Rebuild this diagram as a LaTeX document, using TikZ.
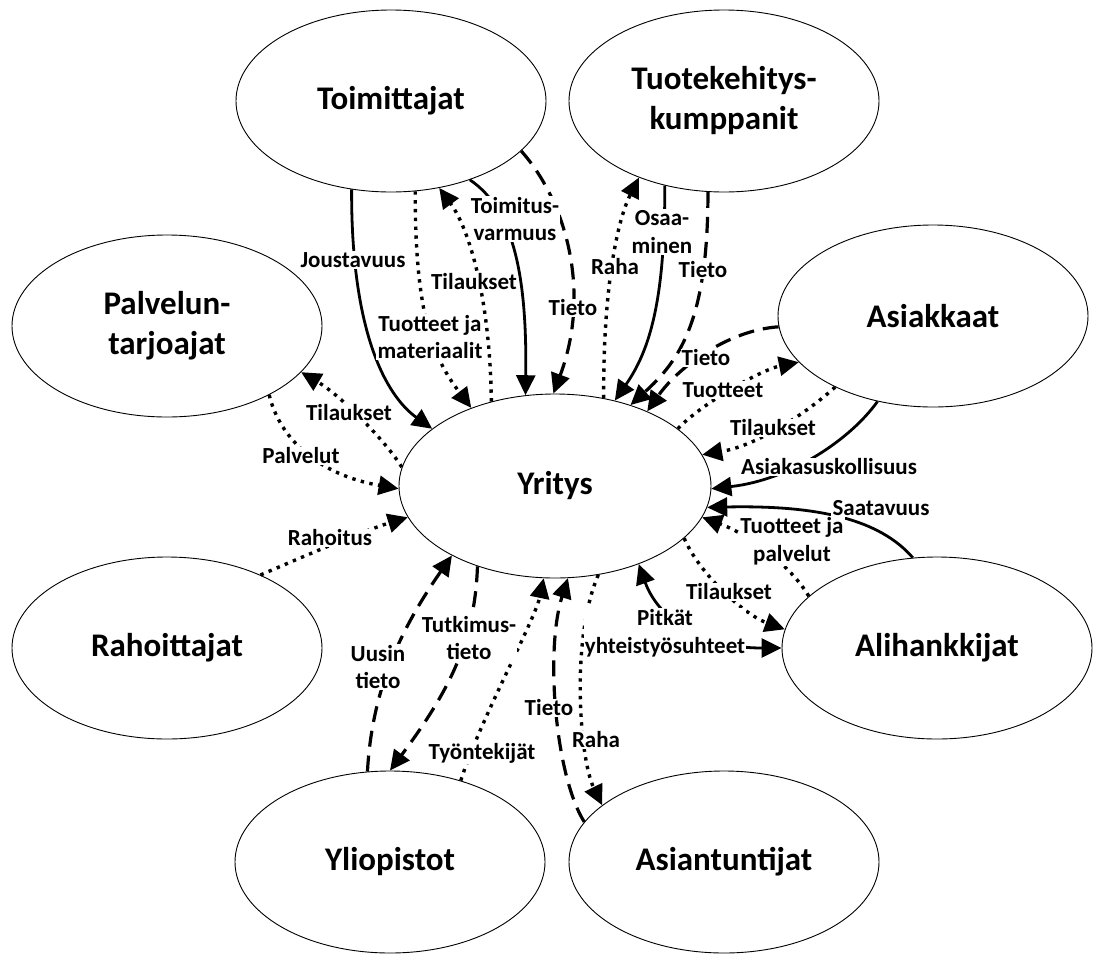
\documentclass[tikz,border=0pt]{standalone}
\usepackage{fontspec}
\setmainfont{Carlito}
\usetikzlibrary{arrows.meta,shapes.geometric}
\begin{document}
\begin{tikzpicture}[x=1pt,y=-1pt,
  party/.style={ellipse,draw,line width=0.9pt,fill=white,minimum width=310pt,
    minimum height=182pt,inner sep=0pt,align=center,
    font=\bfseries\fontsize{33}{40}\selectfont},
  flowlabel/.style={fill=white,inner sep=1.2pt,align=center,
    font=\bfseries\fontsize{23}{27.5}\selectfont},
  headarrow/.style={-{Triangle[length=20pt,width=19pt]}},
  bothheads/.style={{Triangle[length=20pt,width=19pt]}-{Triangle[length=20pt,width=19pt]}},
  solidflow/.style={headarrow,line width=2.8pt},
  solidboth/.style={bothheads,line width=2.8pt},
  dashflow/.style={headarrow,line width=3.2pt,dash pattern=on 16pt off 9pt},
  dotflow/.style={headarrow,line width=3.4pt,dash pattern=on 3.4pt off 5.4pt},
]
\useasboundingbox (0,0) rectangle (1093,954);

% stakeholders
\node[party] (T) at (391,101) {Toimittajat};
\node[party] (K) at (724,101) {Tuotekehitys-\\kumppanit};
\node[party] (P) at (167,326) {Palvelun-\\tarjoajat};
\node[party] (A) at (933,316) {Asiakkaat};
\node[party,minimum width=312pt,minimum height=184pt] (Y) at (555,486) {Yritys};
\node[party] (R) at (167,648) {Rahoittajat};
\node[party] (H) at (937,648) {Alihankkijat};
\node[party] (U) at (390,862) {Yliopistot};
\node[party] (E) at (724,862) {Asiantuntijat};

% suppliers
\draw[solidflow] (T.-114) .. controls (351,330) and (385,395) .. (Y.155);
\draw[dotflow]   (Y.127) .. controls (490,300) and (470,230) .. (T.-61);
\draw[dotflow]   (T.-75) .. controls (415,320) and (435,360) .. (Y.137);
\draw[solidflow] (T.-45) .. controls (515,210) and (527,280) .. (Y.108);
\draw[dashflow]  (T.-21) .. controls (565,200) and (592,290) .. (Y.91);

% development partners
\draw[dotflow]   (Y.61) .. controls (603,300) and (615,225) .. (K.-138);
\draw[solidflow] (K.-125) .. controls (665,300) and (650,350) .. (Y.55);
\draw[dashflow]  (K.-100) .. controls (708,320) and (680,360) .. (Y.47);

% customers
\draw[dashflow]  (A.184) .. controls (730,330) and (680,365) .. (Y.39);
\draw[dotflow]   (Y.25) .. controls (700,405) and (760,370) .. (A.-161);
\draw[dotflow]   (A.-144) .. controls (810,410) and (760,445) .. (Y.12);
\draw[solidflow] (A.-123) .. controls (850,440) and (790,480) .. (Y.-1);

% subcontractors
\draw[solidflow] (H.105) .. controls (880,520) and (820,505) .. (Y.-8);
\draw[dotflow]   (H.158) .. controls (790,565) and (750,535) .. (Y.-12);
\draw[dotflow]   (Y.-22) .. controls (700,575) and (745,615) .. (H.173);
\draw[solidboth] (Y.-43) .. controls (655,610) and (690,648) .. (H.180);

% service providers and financiers
\draw[dotflow]   (Y.173) .. controls (385,440) and (340,395) .. (P.-19);
\draw[dotflow]   (P.-34) .. controls (280,440) and (320,475) .. (Y.181);
\draw[dotflow]   (R.38) .. controls (300,558) and (360,532) .. (Y.192);

% universities
\draw[dashflow]  (U.104) .. controls (372,690) and (400,630) .. (Y.-146);
\draw[dashflow]  (Y.-134) .. controls (475,640) and (450,690) .. (U.90);
\draw[dotflow]   (U.49) .. controls (480,720) and (535,620) .. (Y.-97);

% experts
\draw[dashflow]  (E.164) .. controls (555,775) and (545,650) .. (Y.-82);
\draw[dotflow]   (Y.-64) .. controls (570,640) and (580,760) .. (E.155);

% flow labels
\node[flowlabel] (l1)  at (353,260) {Joustavuus};
\node[flowlabel] (l2)  at (474,282) {Tilaukset};
\node[flowlabel] (l3)  at (430,337) {Tuotteet ja\\materiaalit};
\node[flowlabel] (l4)  at (515,219) {Toimitus-\\varmuus};
\node[flowlabel] (l5)  at (573,308) {Tieto};
\node[flowlabel] (l6)  at (615,267) {Raha};
\node[flowlabel] (l7)  at (662,232) {Osaa-\\minen};
\node[flowlabel] (l8)  at (703,270) {Tieto};
\node[flowlabel] (l9)  at (706,358) {Tieto};
\node[flowlabel] (l10) at (723,390) {Tuotteet};
\node[flowlabel] (l11) at (773,428) {Tilaukset};
\node[flowlabel] (l12) at (829,467) {Asiakasuskollisuus};
\node[flowlabel] (l13) at (881,508) {Saatavuus};
\node[flowlabel] (l14) at (792,541) {Tuotteet ja\\palvelut};
\node[flowlabel] (l15) at (729,592) {Tilaukset};
\node[flowlabel] (l16) at (665,633) {Pitkät\\yhteistyösuhteet};
\node[flowlabel] (l17) at (349,413) {Tilaukset};
\node[flowlabel] (l18) at (301,456) {Palvelut};
\node[flowlabel] (l19) at (330,538) {Rahoitus};
\node[flowlabel] (l20) at (378,667) {Uusin\\tieto};
\node[flowlabel] (l21) at (469,638) {Tutkimus-\\tieto};
\node[flowlabel] (l22) at (482,753) {Työntekijät};
\node[flowlabel] (l23) at (549,708) {Tieto};
\node[flowlabel] (l24) at (596,740) {Raha};
\end{tikzpicture}
\end{document}
